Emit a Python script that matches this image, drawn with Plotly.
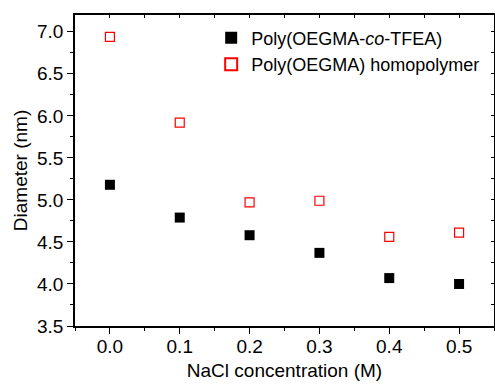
import plotly.graph_objects as go

nacl = [0.0, 0.1, 0.2, 0.3, 0.4, 0.5]
copolymer = [5.18, 4.79, 4.58, 4.37, 4.07, 4.00]
homopolymer = [6.94, 5.92, 4.97, 4.99, 4.56, 4.61]
x_ticks = [0.0, 0.1, 0.2, 0.3, 0.4, 0.5]
x_tick_labels = ["0.0", "0.1", "0.2", "0.3", "0.4", "0.5"]
y_ticks = [3.5, 4.0, 4.5, 5.0, 5.5, 6.0, 6.5, 7.0]
y_tick_labels = ["3.5", "4.0", "4.5", "5.0", "5.5", "6.0", "6.5", "7.0"]

FONT = "Liberation Sans, Arial, sans-serif"
FS = 19

fig = go.Figure()
fig.add_trace(go.Scatter(
    x=nacl, y=copolymer, mode="markers",
    name="Poly(OEGMA-<i>co</i>-TFEA)",
    marker=dict(symbol="square", size=10, color="black", line=dict(width=0)),
))
fig.add_trace(go.Scatter(
    x=nacl, y=homopolymer, mode="markers",
    name="Poly(OEGMA) homopolymer",
    marker=dict(symbol="square-open", size=9, color="red", line=dict(width=1.2, color="red")),
))

xr = [-0.05, 0.55]
yr = [3.5, 7.2]

fig.update_layout(
    width=495, height=385,
    margin=dict(l=75, r=1, t=15, b=59, autoexpand=False),
    paper_bgcolor="white", plot_bgcolor="white",
    font=dict(family=FONT, size=FS, color="black"),
    showlegend=True,
    legend=dict(x=0.325, y=0.985, xanchor="left", yanchor="top",
                bgcolor="rgba(0,0,0,0)", font=dict(size=18, family=FONT),
                tracegroupgap=0, itemsizing="constant"),
    xaxis=dict(
        range=xr, tickvals=x_ticks, ticktext=x_tick_labels,
        ticks="outside", ticklen=6, tickwidth=1.2, tickcolor="black",
        showline=True, linecolor="black", linewidth=1.5,
        showgrid=False, zeroline=False, ticklabelstandoff=-4,
        minor=dict(dtick=0.05, tick0=0.05, ticks="outside", ticklen=3, tickwidth=1.2, tickcolor="black"),
        title=dict(text="NaCl concentration (M)", font=dict(size=FS), standoff=8),
        tickfont=dict(size=FS),
    ),
    yaxis=dict(
        range=yr, tickvals=y_ticks, ticktext=y_tick_labels,
        ticks="outside", ticklen=6, tickwidth=1.2, tickcolor="black",
        showline=True, linecolor="black", linewidth=1.5,
        showgrid=False, zeroline=False,
        minor=dict(dtick=0.25, tick0=3.75, ticks="outside", ticklen=3, tickwidth=1.2, tickcolor="black"),
        title=dict(text="Diameter (nm)", font=dict(size=FS), standoff=4),
        tickfont=dict(size=FS),
    ),
    xaxis2=dict(
        overlaying="x", side="top", range=xr, tickvals=x_ticks,
        showticklabels=False, ticks="inside", ticklen=3, tickwidth=1.2, tickcolor="black",
        showline=True, linecolor="black", linewidth=1.5, showgrid=False, zeroline=False,
        minor=dict(dtick=0.05, tick0=0.05, ticks="inside", ticklen=3, tickwidth=1.2, tickcolor="black"),
    ),
    yaxis2=dict(
        overlaying="y", side="right", range=yr, tickvals=y_ticks,
        showticklabels=False, ticks="inside", ticklen=3, tickwidth=1.2, tickcolor="black",
        showline=True, linecolor="black", linewidth=1.5, showgrid=False, zeroline=False,
        minor=dict(dtick=0.25, tick0=3.75, ticks="inside", ticklen=3, tickwidth=1.2, tickcolor="black"),
    ),
)
# invisible trace to anchor the mirror axes
fig.add_trace(go.Scatter(x=[nacl[0]], y=[copolymer[0]], xaxis="x2", yaxis="y2",
                         mode="markers", marker=dict(opacity=0), showlegend=False, hoverinfo="skip"))

fig.write_html("out.html")
